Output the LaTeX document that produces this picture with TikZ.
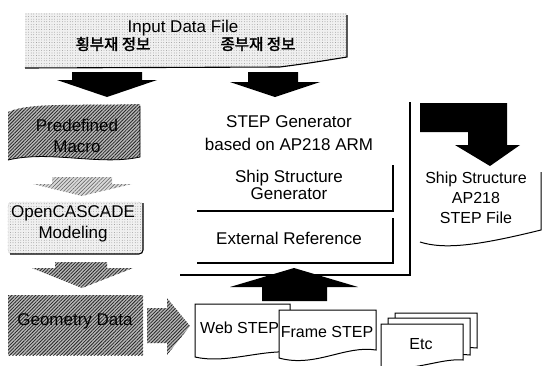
\documentclass[tikz,border=0pt]{standalone}
\usepackage{fontspec}
\setmainfont{Liberation Sans}
\newfontfamily\krfont[FakeBold=2]{Noto Sans CJK KR}
\usetikzlibrary{patterns.meta}
\begin{document}
\begin{tikzpicture}[x=1pt,y=-1pt,
  txt/.style={font=\fontsize{17}{21}\selectfont, align=center, inner sep=0pt},
  smalltxt/.style={font=\fontsize{16}{20}\selectfont, align=center, inner sep=0pt},
  krtxt/.style={font=\krfont\fontsize{15.5}{18}\selectfont, inner sep=0pt},
  hatched/.style={preaction={fill=gray!55}, pattern={Lines[angle=45,distance=2.4pt,line width=0.8pt]}, pattern color=black!85},
  lighthatch/.style={preaction={fill=gray!30}, pattern={Lines[angle=45,distance=2.6pt,line width=0.5pt]}, pattern color=black!65},
  speckled/.style={preaction={fill=gray!12}, pattern={Dots[distance=2.6pt,radius=0.35pt]}, pattern color=black!60},
  edge/.style={line width=1.1pt},
  blockarrow/.style={fill=black},
  doc/.style={draw, line width=1pt, fill=white}]
\useasboundingbox (0,0) rectangle (542,365);

% input data banner
\path[speckled] (25,13) -- (347,13) -- (347,57) .. controls (310,63) .. (280,67) -- (25,68) -- cycle;
\draw[edge] (347,15) -- (347,57) .. controls (310,63) .. (280,67) -- (25,68);
\node[txt] (input) at (183,28) {Input Data File};
\node[krtxt] (trans) at (113,44) {횡부재 정보};
\node[krtxt] (longi) at (258,44) {종부재 정보};

% black arrows leaving the banner
\fill[blockarrow] (72,72) -- (142,72) -- (142,80) -- (157,80) -- (107,97) -- (57,80) -- (72,80) -- cycle;
\fill[blockarrow] (248,72) -- (298,72) -- (298,82) -- (320,82) -- (275,97) -- (230,82) -- (248,82) -- cycle;

% predefined macro
\path[hatched] (8,112) .. controls (30,102) and (80,106) .. (140,104) -- (140,157)
  .. controls (100,166) and (50,150) .. (8,160) -- cycle;
\draw[line width=0.8pt] (140,106) -- (140,157) .. controls (100,166) and (50,150) .. (8,160);
\node[txt] (macro) at (77,136) {Predefined\\Macro};

\path[lighthatch] (52,177) -- (112,177) -- (112,184) -- (132,184) -- (82,196) -- (33,184) -- (52,184) -- cycle;

% opencascade modeling
\path[speckled, rounded corners=4pt] (8,202) rectangle (143,254);
\draw[gray, densely dotted, rounded corners=4pt] (8,202) rectangle (143,254);
\draw[edge, rounded corners=4pt] (143,203) -- (143,254) -- (10,254);
\node[txt] (occ) at (73,224) {OpenCASCADE\\Modeling};

\path[hatched] (55,262) -- (107,262) -- (107,268) -- (133,268) -- (82,288) -- (32,268) -- (55,268) -- cycle;

% geometry data
\path[hatched] (8,295) rectangle (143,355);
\node[txt] (geom) at (75,321) {Geometry Data};

\path[hatched] (147,308) -- (167,308) -- (167,298) -- (190,326) -- (167,355) -- (167,343) -- (147,343) -- cycle;

% step generator frame
\draw[edge] (410,102) -- (410,275) -- (180,275);
\draw[edge] (393,165) -- (393,211) -- (197,211);
\draw[edge] (393,218) -- (393,263) -- (197,263);
\node[txt, font=\fontsize{17}{23}\selectfont] (gen) at (289,133) {STEP Generator\\based on AP218 ARM};
\node[txt, font=\fontsize{17}{16.5}\selectfont] (ssg) at (289,185) {Ship Structure\\Generator};
\node[txt] (ext) at (289,238) {External Reference};

% output file
\fill[blockarrow] (420,103) -- (507,103) -- (507,145) -- (520,145) -- (490,166) -- (455,145) -- (468,145) -- (468,132) -- (420,132) -- cycle;
\draw[line width=1pt] (541,172) -- (541,230) .. controls (480,245) and (445,250) .. (420,242);
\node[smalltxt] (ssfile) at (476,198) {Ship Structure\\AP218\\STEP File};

% referenced step files
\fill[blockarrow] (262,301) -- (262,287) -- (230,287) -- (294,268) -- (358,287) -- (327,287) -- (327,301) -- cycle;
\draw[doc] (195,304) -- (290,304) -- (290,352) .. controls (260,350) and (225,364) .. (195,357) -- cycle;
\node[smalltxt, anchor=west] (web) at (200,328) {Web STEP};
\draw[doc] (279,310) -- (376,310) -- (376,350) .. controls (345,345) and (315,368) .. (279,358) -- cycle;
\node[smalltxt] (frame) at (327,332) {Frame STEP};
\draw[doc] (395,313) -- (477,313) -- (477,348) .. controls (450,345) and (430,360) .. (395,354) -- cycle;
\draw[doc] (388,318) -- (470,318) -- (470,355) .. controls (445,352) and (420,366) .. (388,361) -- cycle;
\draw[doc] (381,324) -- (463,324) -- (463,360) .. controls (440,358) and (415,372) .. (381,367) -- cycle;
\node[smalltxt] (etc) at (421,344) {Etc};
\end{tikzpicture}
\end{document}
